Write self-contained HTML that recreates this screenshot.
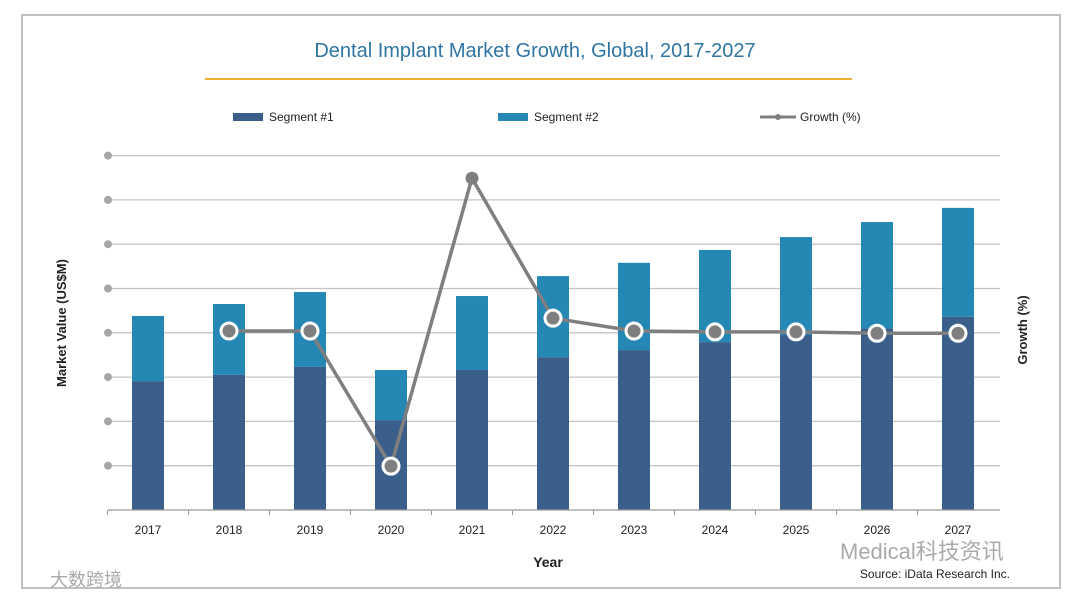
<!DOCTYPE html>
<html><head><meta charset="utf-8"><style>
body{margin:0;background:#fff;font-family:"Liberation Sans","Noto Sans CJK SC",sans-serif}
svg{display:block}
</style></head><body>
<svg width="1080" height="601" viewBox="0 0 1080 601">
<rect x="22" y="15" width="1038" height="573" fill="#fff" stroke="#bfbfbf" stroke-width="2"/>
<text x="535" y="57" text-anchor="middle" font-size="20" fill="#2f75a3">Dental Implant Market Growth, Global, 2017-2027</text>
<line x1="205" y1="79" x2="852" y2="79" stroke="#f0b030" stroke-width="2"/>
<g>
<rect x="233" y="113" width="30" height="8" fill="#3a5f8a"/>
<text x="269" y="121" font-size="12" fill="#222">Segment #1</text>
<rect x="498" y="113" width="30" height="8" fill="#2487b4"/>
<text x="534" y="121" font-size="12" fill="#222">Segment #2</text>
<line x1="760" y1="117" x2="796" y2="117" stroke="#7f7f7f" stroke-width="3"/>
<circle cx="778" cy="117" r="3" fill="#7f7f7f"/>
<text x="800" y="121" font-size="12" fill="#222">Growth (%)</text>
</g>
<g id="grid"></g><g id="bars"></g><g id="line"></g><g id="axis"></g>
<text transform="translate(66,323) rotate(-90)" text-anchor="middle" font-size="13" font-weight="bold" fill="#222">Market Value (US$M)</text>
<text transform="translate(1027,330) rotate(-90)" text-anchor="middle" font-size="13" font-weight="bold" fill="#222">Growth (%)</text>
<text x="548" y="567" text-anchor="middle" font-size="14" font-weight="bold" fill="#222">Year</text>
<text x="1010" y="578" text-anchor="end" font-size="12" fill="#222">Source: iData Research Inc.</text>
<text x="840" y="559" font-size="22" fill="#aaa">Medical科技资讯</text>
<text x="50" y="586" font-size="18" fill="#aaa">大数跨境</text>
</svg>
<script>
const years=["2017","2018","2019","2020","2021","2022","2023","2024","2025","2026","2027"];
const seg1=[2.91,3.05,3.23,2.03,3.16,3.45,3.61,3.79,3.95,4.10,4.36];
const seg2=[1.47,1.60,1.69,1.13,1.67,1.83,1.97,2.08,2.21,2.40,2.46];
const growth=[null,4.04,4.04,0.99,7.49,4.33,4.04,4.02,4.02,3.99,3.99];
const gridTicks=[1,2,3,4,5,6,7,8];
const NS="http://www.w3.org/2000/svg";
const base=510,unit=44.3,x0=148,step=81,bw=32;
const y=v=>base-v*unit, x=i=>x0+i*step;
function mk(tag,attrs,parent){const e=document.createElementNS(NS,tag);for(const k in attrs)e.setAttribute(k,attrs[k]);document.getElementById(parent).appendChild(e);return e;}
gridTicks.forEach(t=>{
 const l=mk("line",{x1:108,x2:1000,y1:y(t),y2:y(t),stroke:"#c4c4c4","stroke-width":1.3},"grid");
 
 
 const c=mk("circle",{cx:108,cy:y(t),r:4,fill:"#a6a6a6"},"grid");
 
 
});
const ax=mk("line",{x1:108,x2:1000,y1:base,y2:base,stroke:"#999","stroke-width":1.3},"axis");


years.forEach((yr,i)=>{
 const b1=mk("rect",{x:x(i)-bw/2,y:y(seg1[i]),width:bw,height:seg1[i]*unit,fill:"#3a5f8a"},"bars");
 
 
 const b2=mk("rect",{x:x(i)-bw/2,y:y(seg1[i]+seg2[i]),width:bw,height:seg2[i]*unit,fill:"#2487b4"},"bars");
 
 
 const tk=mk("line",{x1:x(i)-step/2,x2:x(i)-step/2,y1:base,y2:base+5,stroke:"#999"},"axis");
 
 
 const t=mk("text",{x:x(i),y:base+24,"text-anchor":"middle","font-size":12,fill:"#222"},"axis");
 t.textContent=yr;
 
 
});
const pts=[];growth.forEach((g,i)=>{if(g!==null)pts.push([x(i),y(g)]);});
const pl=mk("polyline",{points:pts.map(p=>p.join(",")).join(" "),fill:"none",stroke:"#7f7f7f","stroke-width":3.5},"line");


growth.forEach((g,i)=>{if(g===null)return;
 const ring=years[i]!=="2021";
 const c=mk("circle",{cx:x(i),cy:y(g),r:ring?8:6.5,fill:"#7f7f7f",stroke:ring?"#fff":"none","stroke-width":3},"line");
 
 
});
</script>
</body></html>
